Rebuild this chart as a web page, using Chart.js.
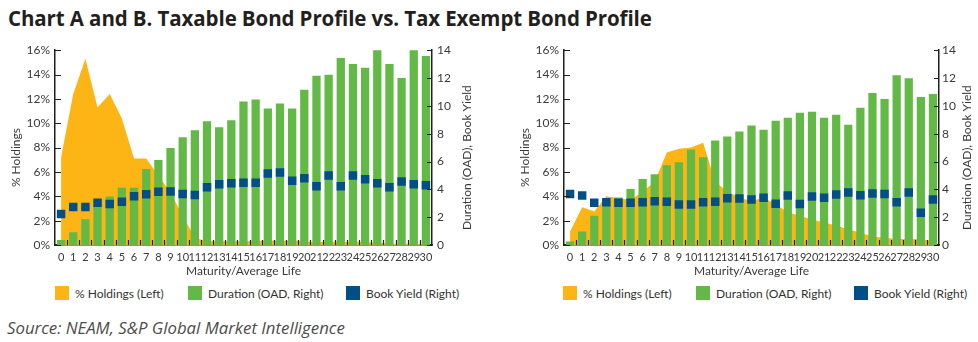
<!DOCTYPE html>
<html>
<head>
<meta charset="utf-8">
<script src="https://cdn.jsdelivr.net/npm/chart.js@4"></script>
<style>
  body { margin: 0; width: 978px; height: 342px; background: #fff; position: relative; overflow: hidden; font-family: Lato, sans-serif; }
  #title { position: absolute; left: 8px; top: 6px; font-family: 'Open Sans', sans-serif; font-weight: bold; font-size: 20.5px; line-height: 1.2; color: #231f20; white-space: nowrap; letter-spacing: -0.1px; }
  canvas { position: absolute; top: 38px; }
  #chartA { left: 0; }
  #chartB { left: 509px; }
  .lg { position: absolute; top: 286px; height: 14px; display: flex; align-items: center; font-size: 12px; color: #333; white-space: nowrap; }
  .sw { width: 14px; height: 14px; margin-right: 6px; }
  #source { position: absolute; left: 7px; top: 318px; font-family: 'Open Sans', sans-serif; font-style: italic; font-size: 16.8px; line-height: 1.2; color: #4d4d4d; white-space: nowrap; }
</style>
</head>
<body>
<div id="title">Chart A and B. Taxable Bond Profile vs. Tax Exempt Bond Profile</div>
<canvas id="chartA" width="482" height="244"></canvas>
<canvas id="chartB" width="469" height="244"></canvas>
<div id="legend"></div>
<div id="source">Source: NEAM, S&amp;P Global Market Intelligence</div>

<script>
// --- Data ---
const maturities = ['0','1','2','3','4','5','6','7','8','9','10','11','12','13','14','15',
                    '16','17','18','19','20','21','22','23','24','25','26','27','28','29','30'];
const seriesNames = ['% Holdings (Left)', 'Duration (OAD, Right)', 'Book Yield (Right)'];
const leftTitle = '% Holdings';
const rightTitle = 'Duration (OAD), Book Yield';

// Chart A - taxable
const holdingsA = [7.2, 12.4, 15.3, 11.3, 12.4, 10.4, 7.1, 7.1, 5.7, 4.3, 2.4, 0.6, 0.3, 0.3, 0.3, 0.3,
                   0.3, 0.4, 0.3, 0.4, 0.3, 0.2, 0.3, 0.2, 0.3, 0.2, 0.2, 0.1, 0.1, 0.1, 0.1];
const durationA = [0.36, 0.92, 1.85, 2.8, 3.48, 4.12, 4.12, 5.47, 6.11, 6.97, 7.75, 8.25, 8.89, 8.46, 8.96, 10.31,
                   10.45, 9.81, 10.17, 9.81, 11.16, 12.16, 12.23, 13.44, 13.0, 12.73, 14.3, 13.0, 12.01, 14.3, 13.58];
const yieldA = [2.23, 2.73, 2.73, 3.03, 2.94, 3.1, 3.51, 3.65, 3.82, 3.84, 3.67, 3.6, 4.15, 4.36, 4.43, 4.48,
                4.48, 5.14, 5.21, 4.62, 4.79, 4.22, 5.0, 4.22, 5.0, 4.72, 4.43, 4.15, 4.57, 4.36, 4.29];

// Chart B - tax exempt
const holdingsB = [1.1, 3.1, 2.75, 4.0, 3.85, 3.7, 4.4, 5.2, 7.6, 7.9, 8.0, 8.4, 5.2, 4.4, 3.9, 3.6,
                   3.9, 3.35, 2.7, 2.4, 2.1, 1.85, 1.6, 1.3, 1.0, 0.7, 0.6, 0.5, 0.5, 0.5, 0.3];
const durationB = [0.26, 0.97, 2.11, 3.18, 3.41, 4.03, 4.74, 5.09, 5.73, 5.95, 6.87, 6.3, 7.51, 7.8, 8.15, 8.58,
                   8.29, 8.93, 9.15, 9.5, 9.57, 9.15, 9.36, 8.65, 9.86, 10.92, 10.5, 12.2, 11.99, 10.64, 10.85];
const yieldB = [3.67, 3.55, 3.03, 3.08, 3.03, 3.03, 3.08, 3.15, 3.1, 2.91, 2.91, 3.08, 3.1, 3.36, 3.34, 3.27,
                3.39, 2.96, 3.55, 2.94, 3.48, 3.39, 3.63, 3.77, 3.58, 3.7, 3.67, 3.08, 3.77, 2.32, 3.27];

const orange = '#fdb515';
const green = '#62b946';
const blue = '#005087';
const axisColor = '#231f20';
const textColor = '#3a3a3a';

// small inward tick marks like the print version
const innerTicks = {
    id: 'innerTicks',
    afterDatasetsDraw(chart) {
        const { ctx, chartArea: a, scales } = chart;
        ctx.save();
        ctx.strokeStyle = axisColor;
        ctx.lineWidth = 1.2;
        ctx.beginPath();
        scales.y.ticks.forEach(t => {
            const py = Math.round(scales.y.getPixelForValue(t.value)) + 0.5;
            ctx.moveTo(a.left, py); ctx.lineTo(a.left + 6, py);
        });
        scales.y2.ticks.forEach(t => {
            const py = Math.round(scales.y2.getPixelForValue(t.value)) + 0.5;
            ctx.moveTo(a.right - 5, py); ctx.lineTo(a.right, py);
        });
        const xs = scales.x;
        const half = (xs.getPixelForValue(1) - xs.getPixelForValue(0)) / 2;
        for (let i = 1; i < maturities.length; i++) {
            const px = Math.round(xs.getPixelForValue(i) - half) + 0.5;
            ctx.moveTo(px, a.bottom); ctx.lineTo(px, a.bottom - 5);
        }
        ctx.stroke();
        ctx.restore();
    }
};

// both vertical titles read bottom-to-top and sit a bit below the middle
const sideTitles = {
    id: 'sideTitles',
    afterDraw(chart) {
        const { ctx, chartArea: a, scales } = chart;
        const cy = (a.top + a.bottom) / 2 + 10;
        ctx.save();
        ctx.fillStyle = textColor;
        ctx.font = '12px Lato, sans-serif';
        ctx.textAlign = 'center';
        ctx.textBaseline = 'middle';
        [[scales.y.left + 11.5, leftTitle], [scales.y2.right - 11, rightTitle]].forEach(([x, txt]) => {
            ctx.save();
            ctx.translate(x, cy);
            ctx.rotate(-Math.PI / 2);
            ctx.fillText(txt, 0, 0);
            ctx.restore();
        });
        ctx.restore();
    }
};

function makeChart(id, holdings, duration, bookYield, pad, leftW, rightW, rightPad) {
    const font = { family: 'Lato, sans-serif', size: 12 };
    return new Chart(document.getElementById(id), {
        type: 'bar',
        data: {
            labels: maturities,
            datasets: [
                {
                    type: 'line',
                    label: seriesNames[0],
                    data: holdings,
                    yAxisID: 'y',
                    fill: 'origin',
                    backgroundColor: orange,
                    borderWidth: 0,
                    pointRadius: 0,
                    tension: 0,
                    order: 3
                },
                {
                    type: 'bar',
                    label: seriesNames[1],
                    data: duration,
                    yAxisID: 'y2',
                    backgroundColor: green,
                    barPercentage: 0.68,
                    categoryPercentage: 1,
                    order: 2
                },
                {
                    type: 'line',
                    label: seriesNames[2],
                    data: bookYield,
                    yAxisID: 'y2',
                    showLine: false,
                    pointStyle: 'rect',
                    pointRadius: 6,
                    pointBackgroundColor: blue,
                    pointBorderWidth: 0,
                    order: 1
                }
            ]
        },
        options: {
            responsive: false,
            animation: false,
            devicePixelRatio: 1,
            layout: { padding: pad },
            plugins: { legend: { display: false }, tooltip: { enabled: false } },
            scales: {
                x: {
                    offset: true,
                    grid: { display: false, drawTicks: false },
                    border: { color: axisColor, width: 1.5 },
                    ticks: { color: textColor, font: { family: 'Lato, sans-serif', size: 11 }, padding: 6, maxRotation: 0, autoSkip: false },
                    title: { display: true, text: 'Maturity/Average Life', color: textColor, font: font },
                    afterFit: s => { s.height = 37; }
                },
                y: {
                    position: 'left',
                    min: 0, max: 16,
                    grid: { display: false, drawTicks: false },
                    border: { color: axisColor, width: 1.5 },
                    ticks: { stepSize: 2, color: textColor, font: font, padding: 5, callback: v => v + '%' },
                    afterFit: s => { s.width = leftW; }
                },
                y2: {
                    position: 'right',
                    min: 0, max: 14,
                    grid: { display: false, drawTicks: false },
                    border: { color: axisColor, width: 1.5 },
                    ticks: { stepSize: 2, color: textColor, font: font, padding: rightPad },
                    afterFit: s => { s.width = rightW; }
                }
            }
        },
        plugins: [innerTicks, sideTitles]
    });
}

makeChart('chartA', holdingsA, durationA, yieldA, { left: 5, right: 4, top: 10, bottom: 0 }, 50, 46, 5);
makeChart('chartB', holdingsB, durationB, yieldB, { left: 5, right: 0, top: 10, bottom: 0 }, 50, 39, 3);

// --- Legend (html) ---
const legendColors = [orange, green, blue];
const legendX = [[55, 188, 346], [563, 696, 854]];
const legendEl = document.getElementById('legend');
legendX.forEach(row => {
    row.forEach((x, i) => {
        const item = document.createElement('div');
        item.className = 'lg';
        item.style.left = x + 'px';
        item.innerHTML = '<span class="sw" style="background:' + legendColors[i] + '"></span>' + seriesNames[i];
        legendEl.appendChild(item);
    });
});
</script>
</body>
</html>
